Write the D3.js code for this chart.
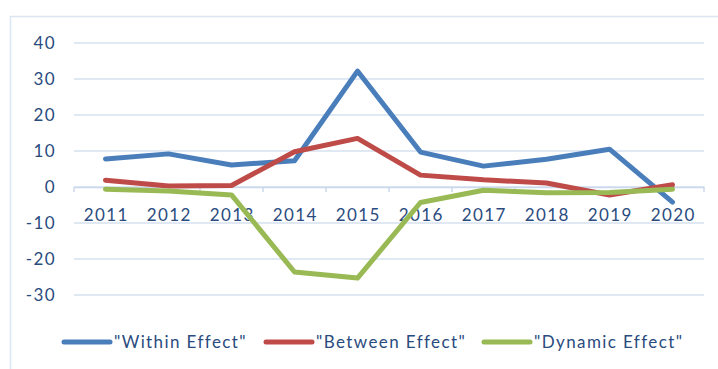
<!DOCTYPE html>
<html>
<head>
<meta charset="utf-8">
<script src="https://cdn.jsdelivr.net/npm/d3@7"></script>
<style>
  html, body { margin: 0; padding: 0; background: #fff; }
  svg { display: block; }
  text { font-family: Lato, "Open Sans", sans-serif; fill: #2A4B7E; letter-spacing: 1.4px; }
</style>
</head>
<body>
<svg id="chart" width="718" height="369"></svg>
<script>
// Years on the category axis
const years = ["2011","2012","2013","2014","2015","2016","2017","2018","2019","2020"];

// Decomposition effects per year
const withinEffect  = [7.8, 9.2, 6.1, 7.3, 32.2, 9.7, 5.8, 7.7, 10.5, -4.2];
const betweenEffect = [1.9, 0.3, 0.4, 9.8, 13.5, 3.3, 2.0, 1.1, -2.2, 0.6];
const dynamicEffect = [-0.6, -1.1, -2.2, -23.6, -25.3, -4.3, -0.9, -1.6, -1.5, -0.6];

const yTicks = [40, 30, 20, 10, 0, -10, -20, -30];

const seriesNames  = ['"Within Effect"', '"Between Effect"', '"Dynamic Effect"'];
const seriesColors = ["#4A7EBB", "#BE4B48", "#98B954"];
const seriesData   = [withinEffect, betweenEffect, dynamicEffect];

const svg = d3.select("#chart");
const W = 718, H = 369;

// chart area frame
svg.append("rect")
  .attr("x", 10.5).attr("y", 16.5)
  .attr("width", W + 10).attr("height", H + 10)
  .attr("fill", "none").attr("stroke", "#DCE6F2").attr("stroke-width", 1.5);

const x = d3.scaleBand().domain(years).range([74, 704]);
const y = d3.scaleLinear().domain([-30, 40]).range([295, 43]);

// horizontal gridlines
svg.append("g").selectAll("line").data(yTicks).join("line")
  .attr("x1", 74).attr("x2", 704)
  .attr("y1", d => y(d)).attr("y2", d => y(d))
  .attr("stroke", "#D6E1F1").attr("stroke-width", 1.5);

// y-axis labels
svg.append("g").selectAll("text").data(yTicks).join("text")
  .attr("x", 56).attr("y", d => y(d))
  .attr("dy", "0.36em")
  .attr("text-anchor", "end")
  .attr("font-size", 17)
  .text(d => d);

// category axis at zero with tick marks
const xAxis = d3.axisBottom(x).tickSize(0).tickFormat("");
const gx = svg.append("g").attr("transform", `translate(0,${y(0)})`).call(xAxis);
gx.select(".domain").attr("stroke", "#CBD8EC").attr("stroke-width", 1.5);
const bounds = years.map(d => x(d)).concat([x.range()[1]]);
gx.selectAll(".tickmark").data(bounds).join("line")
  .attr("class", "tickmark")
  .attr("x1", d => d).attr("x2", d => d)
  .attr("y1", 0).attr("y2", 5)
  .attr("stroke", "#CBD8EC").attr("stroke-width", 1.5);

// category labels below zero line
svg.append("g").selectAll("text").data(years).join("text")
  .attr("x", d => x(d) + x.bandwidth() / 2 + 0.7)
  .attr("y", 215)
  .attr("dy", "0.36em")
  .attr("text-anchor", "middle")
  .attr("font-size", 17)
  .text(d => d);

// series lines
const line = d3.line()
  .x((d, i) => x(years[i]) + x.bandwidth() / 2)
  .y(d => y(d));

svg.append("g").selectAll("path").data(seriesData).join("path")
  .attr("d", d => line(d))
  .attr("fill", "none")
  .attr("stroke", (d, i) => seriesColors[i])
  .attr("stroke-width", 5)
  .attr("stroke-linejoin", "round")
  .attr("stroke-linecap", "round");

// legend
const legendX = [64, 266, 484];
const lg = svg.append("g").selectAll("g").data(seriesNames).join("g")
  .attr("transform", (d, i) => `translate(${legendX[i]},342)`);
lg.append("line")
  .attr("x1", 0).attr("x2", 46).attr("y1", 0).attr("y2", 0)
  .attr("stroke", (d, i) => seriesColors[i])
  .attr("stroke-width", 5).attr("stroke-linecap", "round");
lg.append("text")
  .attr("x", 50).attr("y", 0).attr("dy", "0.36em")
  .attr("font-size", 17)
  .text(d => d);
</script>
</body>
</html>
